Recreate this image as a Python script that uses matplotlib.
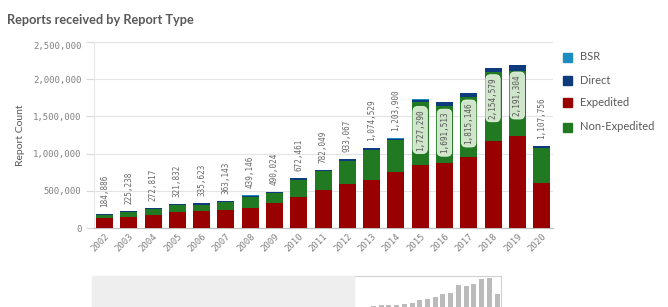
import matplotlib
matplotlib.use("Agg")
import matplotlib.pyplot as plt
from matplotlib.patches import Rectangle
import numpy as np

years = ["2002", "2003", "2004", "2005", "2006", "2007", "2008", "2009", "2010", "2011",
         "2012", "2013", "2014", "2015", "2016", "2017", "2018", "2019", "2020"]
totals = [184886, 225238, 272817, 321832, 335623, 363143, 439146, 490024, 672461, 782049,
          933067, 1074529, 1203900, 1727290, 1691513, 1815146, 2154579, 2191304, 1107756]
expedited = [128000, 150000, 172000, 218000, 228000, 237000, 273000, 335000, 415000, 505000,
             585000, 648000, 756000, 844000, 876000, 957000, 1175000, 1233000, 599000]
non_expedited = [42000, 60000, 84000, 90000, 85000, 111000, 142000, 130000, 233000, 259000,
                 322000, 406000, 424000, 844000, 768000, 808000, 925000, 880000, 478000]
direct = [12900, 13000, 14500, 11500, 20000, 12500, 21500, 22000, 21500, 15000,
          23000, 17500, 21000, 36000, 44000, 46500, 51000, 74500, 28000]
bsr = [2000, 2200, 2300, 2300, 2600, 2600, 2600, 3000, 3000, 3000,
       3000, 3000, 2900, 3300, 3500, 3600, 3600, 3800, 2700]
y_ticks = [0, 500000, 1000000, 1500000, 2000000, 2500000]
y_tick_labels = ["0", "500,000", "1,000,000", "1,500,000", "2,000,000", "2,500,000"]
series_names = ["BSR", "Direct", "Expedited", "Non-Expedited"]
colors = {"BSR": "#1a8cc0", "Direct": "#0e3a7e", "Expedited": "#990000", "Non-Expedited": "#217a21"}

W, H = 668, 307
fig = plt.figure(figsize=(W / 100, H / 100), dpi=100)
narrow = ["Lato", "DejaVu Sans"]
mono = ["DejaVu Sans Mono"]
grey = "#595959"
tick_grey = "#808080"

def fx(px):
    return px / W

def fy(py):
    return 1 - py / H

left, right, top, bottom = 94, 553, 42, 228
ax = fig.add_axes([fx(left), fy(bottom), fx(right - left), (bottom - top) / H])

x = np.arange(len(years))
bw = 0.7
exp_a = np.array(expedited)
non_a = np.array(non_expedited)
dir_a = np.array(direct)
bsr_a = np.array(bsr)
ax.bar(x, exp_a, bw, color=colors["Expedited"], zorder=3)
ax.bar(x, non_a, bw, bottom=exp_a, color=colors["Non-Expedited"], zorder=3)
ax.bar(x, dir_a, bw, bottom=exp_a + non_a, color=colors["Direct"], zorder=3)
ax.bar(x, bsr_a, bw, bottom=exp_a + non_a + dir_a, color=colors["BSR"], zorder=3)

ax.set_xlim(-0.43, len(years) - 1 + 0.47)
ax.set_ylim(0, 2500000)
ax.set_yticks(y_ticks)
ax.set_yticklabels(y_tick_labels, family=mono, fontsize=6.5, color=tick_grey)
ax.get_yticklabels()[-1].set_va("top")
ax.set_xticks(x)
ax.set_xticklabels(years, family=mono, fontsize=6.5, color=tick_grey,
                   rotation=45, ha="right", rotation_mode="anchor")
ax.tick_params(axis="y", length=6, color="#d9d9d9", pad=3)
ax.tick_params(axis="x", length=0, pad=3)
ax.grid(axis="y", color="#e3e3e3", linewidth=0.8, zorder=0)
for s in ["top", "right"]:
    ax.spines[s].set_visible(False)
ax.spines["left"].set_color("#e6e6e6")
ax.spines["bottom"].set_color("#bfbfbf")
ax.set_ylabel("Report Count", family=narrow, fontsize=7.5, color=grey, labelpad=6)

for i, t in enumerate(totals):
    label = f"{t:,}"
    if t > 1500000:
        ax.annotate(label, (x[i], t), xytext=(0, -7), textcoords="offset points",
                    rotation=90, ha="center", va="top", family=mono, fontsize=5.5,
                    color="#555555", zorder=5,
                    bbox=dict(boxstyle="round,pad=0.35,rounding_size=0.6",
                              fc="#cfe6cb", ec="#e8f3e6", lw=0.6))
    else:
        ax.annotate(label, (x[i], t), xytext=(0, 5), textcoords="offset points",
                    rotation=90, ha="center", va="bottom", family=mono, fontsize=5.5,
                    color="#666666", zorder=5)

fig.text(fx(7), fy(20), "Reports received by Report Type", family=narrow,
         fontweight="bold", fontsize=9.2, color=grey, ha="left", va="center")

legend_y = [57, 80, 103, 127]
for name, ly in zip(series_names, legend_y):
    fig.patches.append(Rectangle((fx(563), fy(ly + 4.5)), fx(9), 9 / H,
                                 transform=fig.transFigure, color=colors[name]))
    fig.text(fx(580), fy(ly), name, family=narrow, fontsize=8, color=grey,
             ha="left", va="center")

# navigation mini chart
fig.patches.append(Rectangle((fx(92), fy(307)), fx(354 - 92), (307 - 276) / H,
                             transform=fig.transFigure, color="#eeeeee", zorder=0))
mini = fig.add_axes([fx(354), fy(310), fx(501 - 354), (310 - 276) / H])
mini.bar(x, totals, 0.65, color="#bbbbbb")
mini.set_xlim(-0.5, len(years) - 0.5)
mini.set_ylim(0, 2191304 * 34 / 31.7)
mini.set_xticks([])
mini.set_yticks([])
for s in mini.spines.values():
    s.set_color("#d0d0d0")
    s.set_linewidth(0.8)

fig.savefig("out.png", dpi=100)
